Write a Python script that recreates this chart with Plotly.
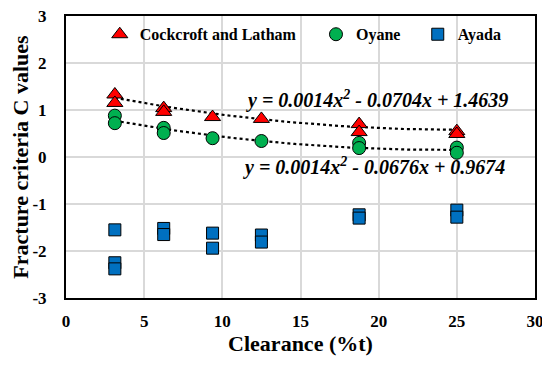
import numpy as np
import plotly.graph_objects as go

# Data
cl_x = [3.125, 3.125, 6.25, 6.25, 9.375, 12.5, 18.75, 18.75, 25, 25]
cl_y = [1.33, 1.15, 1.04, 0.96, 0.85, 0.81, 0.70, 0.53, 0.55, 0.49]
oy_x = [3.125, 3.125, 6.25, 6.25, 9.375, 12.5, 18.75, 18.75, 25, 25]
oy_y = [0.88, 0.72, 0.62, 0.51, 0.40, 0.34, 0.30, 0.19, 0.20, 0.09]
ay_x = [3.125, 3.125, 3.125, 6.25, 6.25, 9.375, 9.375, 12.5, 12.5, 18.75, 18.75, 25, 25]
ay_y = [-1.55, -2.25, -2.38, -1.52, -1.65, -1.62, -1.94, -1.66, -1.81, -1.23, -1.30, -1.13, -1.28]

cl_coef = [0.0014, -0.0704, 1.4639]
oy_coef = [0.0014, -0.0676, 0.9674]
x_ticks = [0, 5, 10, 15, 20, 25, 30]
y_ticks = [-3, -2, -1, 0, 1, 2, 3]

FONT = "Liberation Serif"

fig = go.Figure()
xt = np.linspace(min(cl_x), max(cl_x), 60)
for coef in (cl_coef, oy_coef):
    fig.add_trace(go.Scatter(x=xt, y=np.polyval(coef, xt), mode="lines",
                             line=dict(color="black", width=2.2, dash="dot"),
                             showlegend=False, hoverinfo="skip"))

fig.add_trace(go.Scatter(x=cl_x, y=cl_y, mode="markers", name="<b>Cockcroft and Latham</b>",
                         marker=dict(symbol="triangle-up", size=14, color="#ff0000",
                                     line=dict(color="black", width=1)), legend="legend"))
fig.add_trace(go.Scatter(x=oy_x, y=oy_y, mode="markers", name="<b>Oyane</b>",
                         marker=dict(symbol="circle", size=13, color="#00b050",
                                     line=dict(color="black", width=1)), legend="legend2"))
fig.add_trace(go.Scatter(x=ay_x, y=ay_y, mode="markers", name="<b>Ayada</b>",
                         marker=dict(symbol="square", size=12, color="#0070c0",
                                     line=dict(color="black", width=1)), legend="legend3"))

def fmt(c):
    return f"<b><i>y = {c[0]}x<sup>2</sup> - {abs(c[1])}x + {c[2]}</i></b>"

fig.add_annotation(x=19.9, y=1.22, xref="x", yref="y", text=fmt(cl_coef), showarrow=False,
                   xanchor="center", font=dict(family=FONT, size=20, color="black"))
fig.add_annotation(x=19.7, y=-0.2, xref="x", yref="y", text=fmt(oy_coef), showarrow=False,
                   xanchor="center", font=dict(family=FONT, size=20, color="black"))

leg_common = dict(orientation="h", yanchor="middle", y=0.935, xanchor="left",
                  bgcolor="rgba(0,0,0,0)", itemwidth=30,
                  font=dict(family=FONT, size=16, color="black"))
fig.update_layout(
    width=542, height=358,
    margin=dict(l=58, r=15, t=8, b=68),
    plot_bgcolor="white", paper_bgcolor="white",
    font=dict(family=FONT, color="black"),
    legend=dict(x=0.072, **leg_common),
    legend2=dict(x=0.533, **leg_common),
    legend3=dict(x=0.75, **leg_common),
    xaxis=dict(range=[0, 30], tickvals=x_ticks, ticktext=[f"<b>{v}</b>" for v in x_ticks],
               showgrid=True, gridcolor="#d9d9d9", gridwidth=1.5, zeroline=False,
               showline=True, linecolor="black", linewidth=2, mirror=True, ticks="",
               automargin=False, ticklabelstandoff=7, ticklabeloverflow="allow",
               tickfont=dict(family=FONT, size=17, color="black"),
               title=dict(text="<b>Clearance (%t)</b>", font=dict(family=FONT, size=22), standoff=2)),
    yaxis=dict(range=[-3, 3], tickvals=y_ticks, ticktext=[f"<b>{v}</b>" for v in y_ticks],
               showgrid=True, gridcolor="#d9d9d9", gridwidth=1.5, zeroline=False,
               showline=True, linecolor="black", linewidth=2, mirror=True, ticks="",
               automargin=False, ticklabeloverflow="allow",
               tickfont=dict(family=FONT, size=17, color="black"), ticklabelstandoff=14,
               title=dict(text="<b>Fracture criteria C values</b>", font=dict(family=FONT, size=22), standoff=7)),
)
fig.write_html("out.html")
